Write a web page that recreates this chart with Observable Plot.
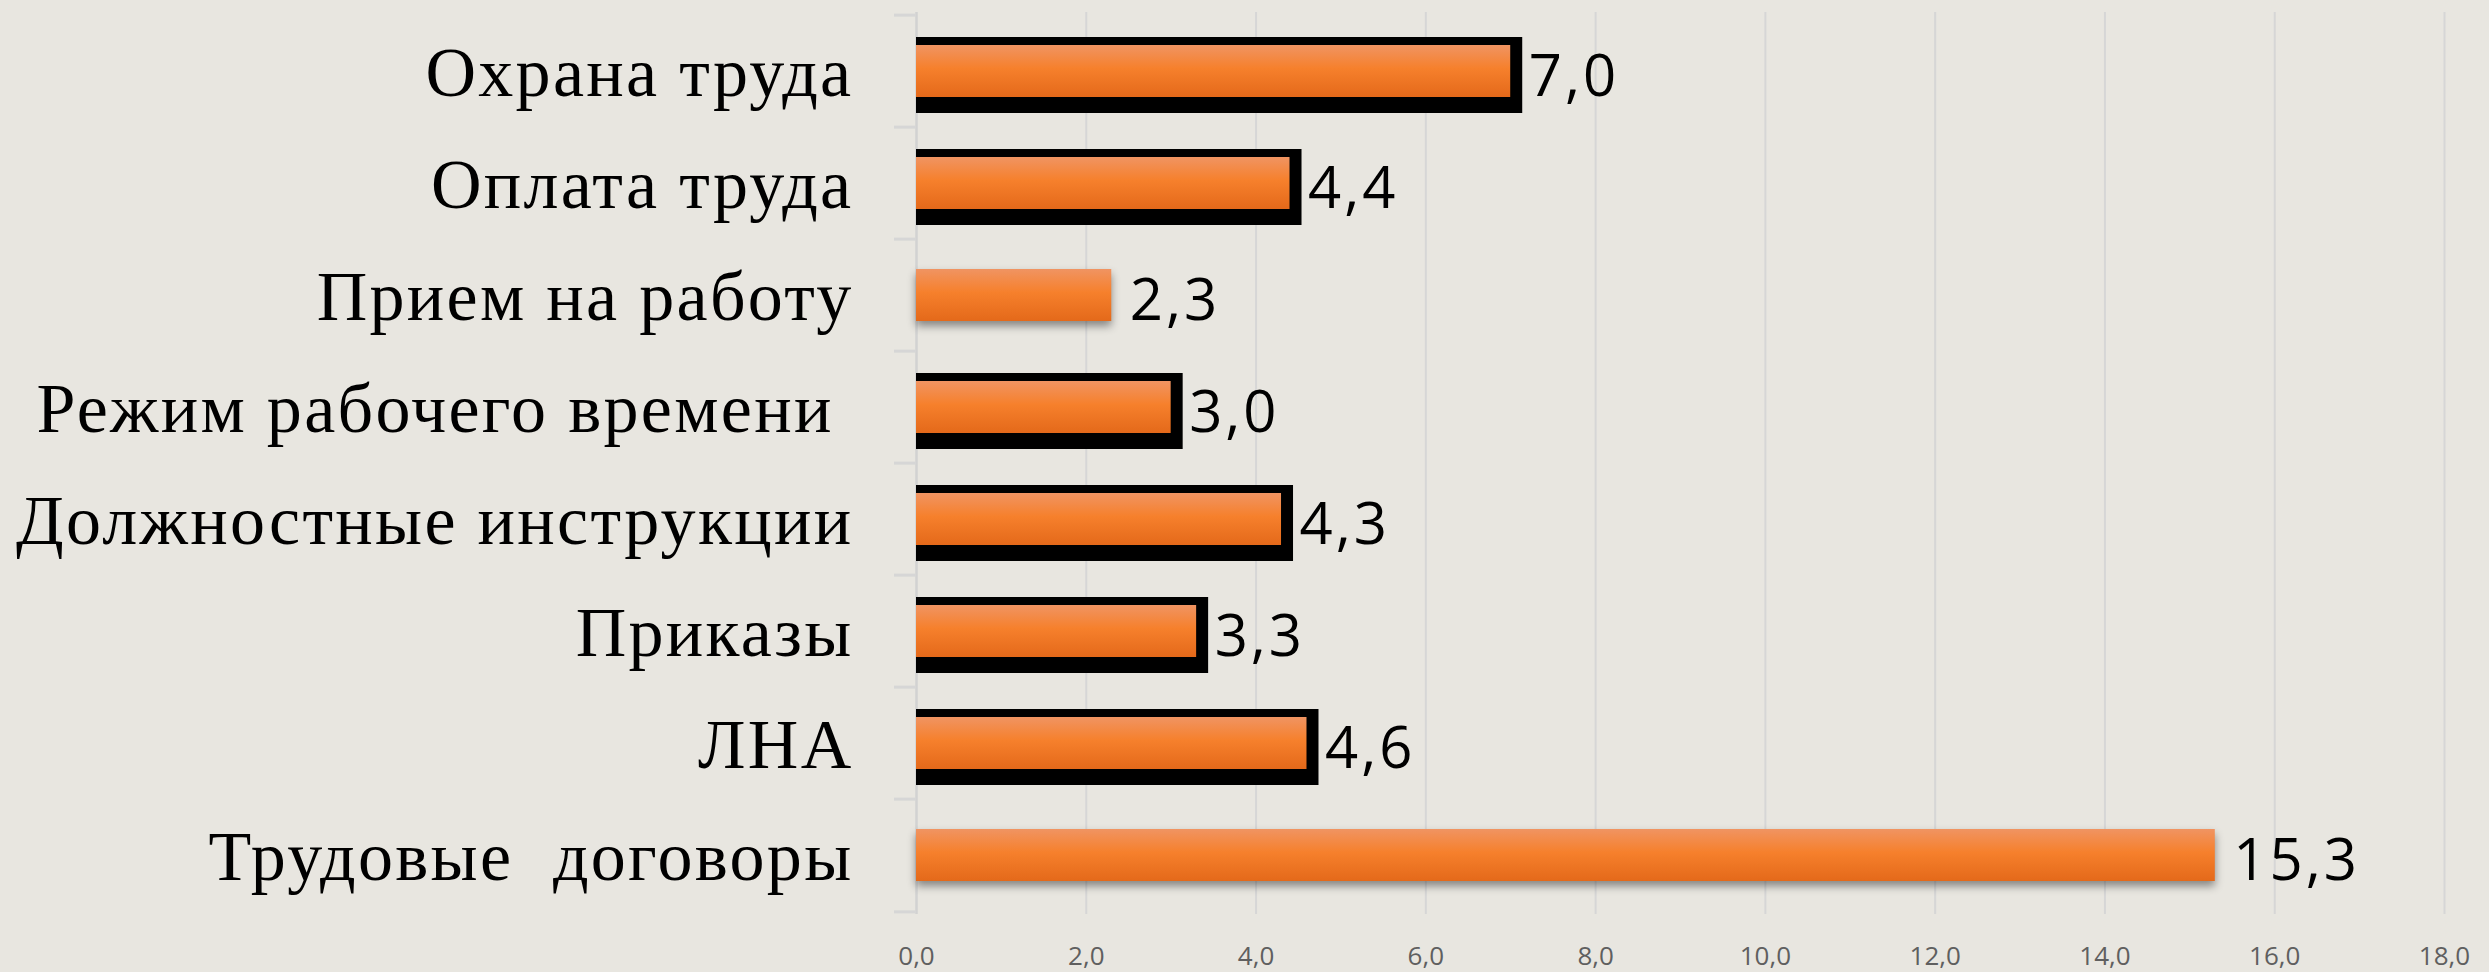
<!DOCTYPE html>
<html>
<head>
<meta charset="utf-8">
<script src="https://cdn.jsdelivr.net/npm/d3@7"></script>
<script src="https://cdn.jsdelivr.net/npm/@observablehq/plot@0.6"></script>
<style>
  html, body { margin: 0; padding: 0; background: #e8e6e0; }
  #chart svg { display: block; white-space: pre; }
</style>
</head>
<body>
<div id="chart"></div>
<script>
// ---- data ----
const categories = [
  "Охрана труда",
  "Оплата труда",
  "Прием на работу",
  "Режим рабочего времени ",
  "Должностные инструкции",
  "Приказы",
  "ЛНА",
  "Трудовые  договоры"
];
const values = [7.0, 4.4, 2.3, 3.0, 4.3, 3.3, 4.6, 15.3];
const framed = [true, true, false, true, true, true, true, false];
const xTicks = [0, 2, 4, 6, 8, 10, 12, 14, 16, 18];

const data = categories.map((c, i) => ({category: c, value: values[i], framed: framed[i]}));
const fmt = d => d.toFixed(1).replace(".", ",");

const W = 2489, H = 972;
const mTop = 12, mBottom = 58, mLeft = 916, mRight = 45;
const bw = (H - mTop - mBottom) / categories.length;

const chart = Plot.plot({
  width: W, height: H,
  marginTop: mTop, marginBottom: mBottom, marginLeft: mLeft, marginRight: mRight,
  style: {background: "#e8e6e0", color: "#5f5f5f", fontFamily: "'Open Sans', sans-serif", fontSize: "26px", overflow: "visible"},
  x: {domain: [0, 18], ticks: xTicks, tickFormat: fmt, tickSize: 0, tickPadding: 32, label: null},
  y: {domain: categories, padding: 0, axis: null},
  marks: [
    Plot.ruleX(xTicks.slice(1), {stroke: "#d6d6d6", strokeWidth: 2}),
    Plot.ruleX([0], {stroke: "#d2d2d2", strokeWidth: 2.5}),
    Plot.ruleY(categories, {y: d => d, x1: 0, x2: 0, insetLeft: -22, dy: -bw / 2, stroke: "#d6d6d6", strokeWidth: 3}),
    Plot.ruleY(categories.slice(-1), {y: d => d, x1: 0, x2: 0, insetLeft: -22, dy: bw / 2, stroke: "#d6d6d6", strokeWidth: 3}),
    Plot.barX(data.filter(d => d.framed), {x: "value", y: "category", fill: "black", insetTop: 22, insetBottom: 14, insetRight: -12}),
    Plot.barX(data.filter(d => d.framed), {x: "value", y: "category", fill: "url(#orangeGrad)", insetTop: 30, insetBottom: 30}),
    Plot.barX(data.filter(d => !d.framed), {x: "value", y: "category", fill: "url(#orangeGradS)", insetTop: 30, insetBottom: 30}),
    Plot.text(data, {x: "value", y: "category", text: d => fmt(d.value), textAnchor: "start", dx: 18, dy: 6, fontSize: 58, fontFamily: "'Open Sans', sans-serif", fill: "black"}),
    Plot.text(data, {x: 0, y: "category", text: "category", textAnchor: "end", dx: -63, dy: 2, fontSize: 70, fontFamily: "'Liberation Serif', serif", fill: "black"})
  ]
});

document.getElementById("chart").appendChild(chart);

// gradient defs
const svg = d3.select(chart);
const defs = svg.insert("defs", ":first-child");
for (const id of ["orangeGrad", "orangeGradS"]) {
  const grad = defs.append("linearGradient").attr("id", id)
    .attr("x1", 0).attr("y1", 0).attr("x2", 0).attr("y2", 1);
  grad.append("stop").attr("offset", "0%").attr("stop-color", "#f09462");
  grad.append("stop").attr("offset", "45%").attr("stop-color", "#f6802c");
  grad.append("stop").attr("offset", "100%").attr("stop-color", "#e4691a");
}
svg.selectAll('g[fill="url(#orangeGradS)"]').style("filter", "drop-shadow(0px 5px 4px rgba(0,0,0,0.42))");
svg.selectAll('g[font-size="58"] text').attr("letter-spacing", "3");
svg.selectAll('g[font-size="70"] text').attr("letter-spacing", "2.3");
</script>
</body>
</html>
